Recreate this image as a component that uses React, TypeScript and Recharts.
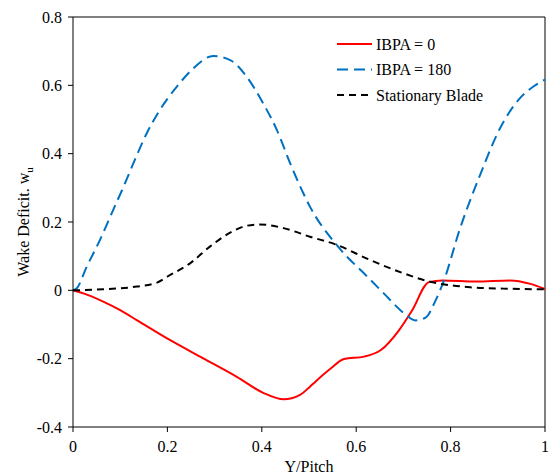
import {
  LineChart,
  Line,
  XAxis,
  YAxis,
  ReferenceLine,
  Legend,
  Label,
} from "recharts";

const ibpa0X = [0, 0.022, 0.064, 0.1, 0.135, 0.206, 0.276, 0.347, 0.403, 0.446, 0.481, 0.502, 0.513, 0.546, 0.574, 0.617, 0.653, 0.689, 0.718, 0.754, 0.783, 0.854, 0.926, 0.969, 1];
const ibpa0Y = [0, -0.009, -0.033, -0.058, -0.087, -0.146, -0.199, -0.253, -0.3, -0.319, -0.306, -0.282, -0.268, -0.229, -0.201, -0.194, -0.174, -0.12, -0.06, 0.024, 0.029, 0.026, 0.029, 0.019, 0.004];

const ibpa180X = [0, 0.008, 0.029, 0.057, 0.085, 0.107, 0.128, 0.156, 0.184, 0.22, 0.255, 0.297, 0.333, 0.368, 0.403, 0.432, 0.46, 0.488, 0.502, 0.559, 0.625, 0.66, 0.704, 0.725, 0.747, 0.768, 0.786, 0.819, 0.862, 0.905, 0.948, 0.977, 1];
const ibpa180Y = [0, 0.006, 0.069, 0.147, 0.235, 0.303, 0.372, 0.459, 0.528, 0.596, 0.65, 0.686, 0.674, 0.625, 0.547, 0.469, 0.372, 0.284, 0.245, 0.132, 0.038, -0.011, -0.07, -0.088, -0.08, -0.03, 0.029, 0.177, 0.336, 0.475, 0.564, 0.598, 0.617];

const statX = [0, 0.064, 0.135, 0.177, 0.206, 0.248, 0.29, 0.333, 0.368, 0.396, 0.446, 0.502, 0.559, 0.629, 0.7, 0.749, 0.841, 0.912, 1];
const statY = [0, 0.003, 0.011, 0.022, 0.045, 0.079, 0.128, 0.169, 0.189, 0.193, 0.182, 0.157, 0.133, 0.089, 0.05, 0.028, 0.009, 0.005, 0.003];

const xTicks = [0, 0.2, 0.4, 0.6, 0.8, 1];
const yTicks = [-0.4, -0.2, 0, 0.2, 0.4, 0.6, 0.8];

const series = [
  { name: "IBPA = 0", xs: ibpa0X, ys: ibpa0Y, color: "#FF0000", dash: undefined },
  { name: "IBPA = 180", xs: ibpa180X, ys: ibpa180Y, color: "#0070C0", dash: "11 6" },
  { name: "Stationary Blade", xs: statX, ys: statY, color: "#000000", dash: "7 5" },
];

const FONT = "'Liberation Serif', 'Times New Roman', serif";

const toRows = (xs: number[], ys: number[]) => xs.map((x, i) => ({ x, y: ys[i] }));

function LegendBox() {
  return (
    <svg width={210} height={80} style={{ fontFamily: FONT }}>
      {series.map((s, i) => {
        const cy = 14 + i * 25.5;
        return (
          <g key={s.name}>
            <line x1={7} x2={42} y1={cy} y2={cy} stroke={s.color} strokeWidth={2} strokeDasharray={s.dash} />
            <text x={46} y={cy + 5.5} fontSize={16} fill="#000">
              {s.name}
            </text>
          </g>
        );
      })}
    </svg>
  );
}

function YTitle() {
  return (
    <text x={0} y={0} transform="translate(29,222) rotate(-90)" textAnchor="middle" fontSize={16} fontFamily={FONT} fill="#000">
      Wake Deficit. w
      <tspan fontSize={11} dy={4}>u</tspan>
    </text>
  );
}

function XTitle() {
  return (
    <text x={309} y={472} textAnchor="middle" fontSize={16} fontFamily={FONT} fill="#000">
      Y/Pitch
    </text>
  );
}

export default function App() {
  return (
    <div style={{ position: "absolute", left: 0, top: 0, fontFamily: FONT }}>
      <LineChart width={552} height={476} margin={{ top: 17, right: 7, bottom: 0, left: 0 }}>
        <XAxis
          type="number"
          dataKey="x"
          domain={[0, 1]}
          ticks={xTicks}
          height={49}
          tickSize={5}
          tickMargin={9}
          stroke="#000"
          tick={{ fill: "#000", fontSize: 16, fontFamily: FONT }}
          allowDuplicatedCategory={false}
        >
          <Label content={XTitle} />
        </XAxis>
        <YAxis
          type="number"
          domain={[-0.4, 0.8]}
          ticks={yTicks}
          width={73}
          tickSize={5}
          tickMargin={6}
          stroke="#000"
          tick={{ fill: "#000", fontSize: 16, fontFamily: FONT }}
        >
          <Label content={YTitle} />
        </YAxis>
        <ReferenceLine y={0.8} stroke="#000" strokeWidth={1} />
        <ReferenceLine x={1} stroke="#000" strokeWidth={1} />
        {series.map((s) => (
          <Line
            key={s.name}
            data={toRows(s.xs, s.ys)}
            dataKey="y"
            name={s.name}
            type="monotone"
            stroke={s.color}
            strokeWidth={2}
            strokeDasharray={s.dash}
            dot={false}
            activeDot={false}
            isAnimationActive={false}
          />
        ))}
        <Legend
          layout="horizontal"
          verticalAlign="middle"
          align="center"
          content={LegendBox}
          wrapperStyle={{ left: 330, top: 30, width: 210, height: 80 }}
        />
      </LineChart>
    </div>
  );
}
